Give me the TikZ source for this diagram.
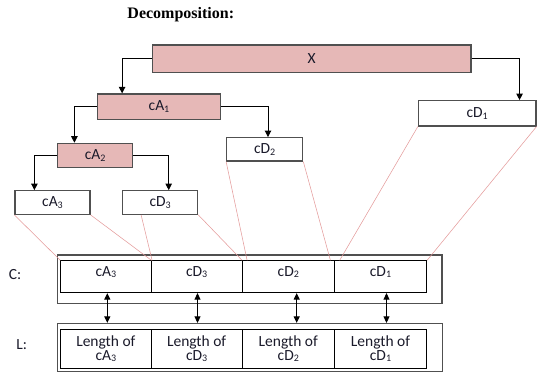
\documentclass[tikz,border=0pt]{standalone}
\usepackage{fontspec}
\setmainfont{Carlito}
\newfontfamily\titlefont{Liberation Serif}
\usetikzlibrary{arrows.meta}
\definecolor{pinkfill}{HTML}{E6B8B7}
\definecolor{boxgray}{HTML}{505050}
\definecolor{pinkline}{HTML}{E49C9C}
\definecolor{txt}{HTML}{1A1A2A}
\newcommand{\sbs}[1]{\raisebox{-0.25ex}{\fontsize{10}{10}\selectfont #1}}
\begin{document}
\begin{tikzpicture}[x=1pt,y=-1pt,
  tbox/.style={draw=boxgray,line width=1.2pt,inner sep=0pt,fill=white,
    font=\fontsize{15.5}{18}\selectfont,text=txt},
  pbox/.style={tbox,fill=pinkfill},
  conn/.style={draw=black,line width=0.9pt,-{Triangle[length=6.5pt,width=6.5pt]}},
  dconn/.style={draw=black,line width=0.9pt,
    {Triangle[length=6.5pt,width=6pt]}-{Triangle[length=6.5pt,width=6pt]}},
  pline/.style={draw=pinkline,line width=0.55pt},
  outerbox/.style={draw=boxgray,line width=1.3pt,inner sep=0pt},
  ccell/.style={draw=black,line width=0.8pt,inner sep=0pt,minimum height=32pt,
    text height=15.3pt,text depth=16.7pt,font=\fontsize{15.5}{18}\selectfont,text=txt},
  lcell/.style={draw=black,line width=0.8pt,inner sep=0pt,minimum height=39.3pt,
    align=center,font=\fontsize{15.5}{14}\selectfont,text=txt},
  sidelbl/.style={font=\fontsize{15.5}{18}\selectfont,text=txt,inner sep=0pt}
]
\useasboundingbox (0,0) rectangle (541,373);

\node[font=\titlefont\bfseries\fontsize{16}{18}\selectfont,inner sep=0pt] (title) at (180.8,14.5) {Decomposition:};

% tree
\node[pbox,minimum width=318.7pt,minimum height=27.3pt] (X) at (311.7,58.7) {X};
\node[pbox,minimum width=123.4pt,minimum height=25.7pt] (cA1) at (159,106.8) {cA\sbs{1}};
\node[tbox,minimum width=117.5pt,minimum height=25.3pt] (cD1) at (477.2,113.3) {cD\sbs{1}};
\node[pbox,minimum width=75pt,minimum height=24.4pt] (cA2) at (95.2,155.5) {cA\sbs{2}};
\node[tbox,minimum width=76pt,minimum height=23.3pt] (cD2) at (264.7,149.3) {cD\sbs{2}};
\node[tbox,minimum width=75pt,minimum height=23.6pt] (cA3) at (52.5,202.5) {cA\sbs{3}};
\node[tbox,minimum width=75.2pt,minimum height=23.6pt] (cD3) at (160.1,202.5) {cD\sbs{3}};

\draw[conn] (X.west) -| ([xshift=25.4pt]cA1.north west);
\draw[conn] (X.east) -| ([xshift=-17pt]cD1.north east);
\draw[conn] (cA1.west) -| ([xshift=17.3pt]cA2.north west);
\draw[conn] (cA1.east) -| ([xshift=3.3pt]cD2.north);
\draw[conn] (cA2.west) -| ([xshift=20pt]cA3.north west);
\draw[conn] (cA2.east) -| ([xshift=46.8pt]cD3.north west);

% C and L arrays
\node[outerbox,minimum width=384.3pt,minimum height=48.3pt] (Cout) at (249.85,279.15) {};
\node[outerbox,minimum width=384.8pt,minimum height=48.4pt] (Lout) at (250.1,347.5) {};

\node[ccell,minimum width=90.3pt] (c1) at (105.85,276.7) {cA\sbs{3}};
\node[ccell,minimum width=91.3pt] (c2) at (196.65,276.7) {cD\sbs{3}};
\node[ccell,minimum width=92pt] (c3) at (288.3,276.7) {cD\sbs{2}};
\node[ccell,minimum width=92.4pt] (c4) at (380.5,276.7) {cD\sbs{1}};

\node[lcell,minimum width=90.3pt] (l1) at (105.85,348.65) {Length of\\cA\sbs{3}};
\node[lcell,minimum width=91.3pt] (l2) at (196.65,348.65) {Length of\\cD\sbs{3}};
\node[lcell,minimum width=92pt] (l3) at (288.3,348.65) {Length of\\cD\sbs{2}};
\node[lcell,minimum width=92.4pt] (l4) at (380.5,348.65) {Length of\\cD\sbs{1}};

\node[sidelbl] (Clbl) at (15,275) {C:};
\node[sidelbl] (Llbl) at (21.7,345) {L:};

% pink mapping lines
\draw[pline] (cA3.south west) -- (c1.north west);
\draw[pline] (cA3.south east) -- (c1.north east);
\draw[pline] ([xshift=19.2pt]cD3.south west) -- ([xshift=0.7pt]c1.north east);
\draw[pline] (cD3.south east) -- ([xshift=-0.6pt]c2.north east);
\draw[pline] (cD2.south west) -- ([xshift=4.4pt]c2.north east);
\draw[pline] (cD2.south east) -- ([xshift=-4.3pt]c3.north east);
\draw[pline] (cD1.south west) -- ([xshift=5pt]c3.north east);
\draw[pline] (cD1.south east) -- (c4.north east);

% double arrows
\draw[dconn] ([xshift=1.45pt]c1.south) -- ([xshift=1.45pt,yshift=5.7pt]l1.north);
\draw[dconn] ([xshift=0.85pt]c2.south) -- ([xshift=0.85pt,yshift=5.7pt]l2.north);
\draw[dconn] ([xshift=8.4pt]c3.south) -- ([xshift=8.4pt,yshift=5.7pt]l3.north);
\draw[dconn] ([xshift=6pt]c4.south) -- ([xshift=6pt,yshift=5.7pt]l4.north);
\end{tikzpicture}
\end{document}
